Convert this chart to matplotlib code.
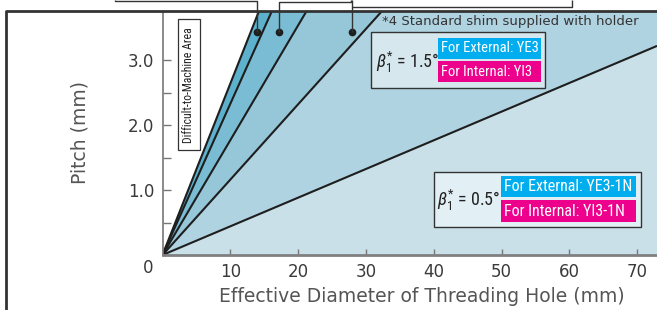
import matplotlib
matplotlib.use("Agg")
import matplotlib.pyplot as plt
from matplotlib.patches import Rectangle
from matplotlib.lines import Line2D
from matplotlib import font_manager

# ---------------- data ----------------
# each boundary line runs from the origin to (line_end_d, line_end_p)
line_end_d = [14.2, 16.1, 21.2, 32.3, 72.9]      # effective diameter (mm)
line_end_p = [3.75, 3.75, 3.75, 3.75, 3.22]      # pitch (mm)
region_colors = ["#5db1cc", "#7abcd3", "#96c7d9", "#b0d3e1", "#c9e0e9"]
x_ticks = [10, 20, 30, 40, 50, 60, 70]
y_ticks = [1.0, 2.0, 3.0]
y_minor = [0.5, 1.5, 2.5]
callout_d = [13.9, 17.2, 27.9]
callout_p = [3.43, 3.43, 3.43]
xmax, ymax = 72.9, 3.75

# pick a condensed font if available
names = {f.name for f in font_manager.fontManager.ttflist}
if "Roboto Condensed" in names:
    nf = "Roboto Condensed"
    fs_l1, fs_l2, fs_dma, fs_beta = 10.5, 11.5, 8.5, 13
elif "Liberation Sans Narrow" in names:
    nf = "Liberation Sans Narrow"
    fs_l1, fs_l2, fs_dma, fs_beta = 10.5, 11.5, 8.5, 13
else:
    nf = "Roboto"
    fs_l1, fs_l2, fs_dma, fs_beta = 9.5, 10.5, 7.3, 12
narrow = [nf, "DejaVu Sans"]
plt.rcParams["mathtext.fontset"] = "custom"
plt.rcParams["mathtext.rm"] = nf
plt.rcParams["mathtext.it"] = nf + ":italic"
plt.rcParams["mathtext.bf"] = nf + ":bold"
plt.rcParams["mathtext.fallback"] = "stixsans"

W, H = 657, 310
fig = plt.figure(figsize=(W / 100, H / 100), dpi=100)
fig.patch.set_facecolor("white")

def fx(px):
    return px / W

def fy(py):
    return 1 - py / H

ax = fig.add_axes([fx(162.5), fy(255), fx(657) - fx(162.5), fy(11.5) - fy(255)])
ax.set_xlim(0, xmax)
ax.set_ylim(0, ymax)
ax.set_facecolor("white")

# filled regions between successive lines
for i in range(4):
    ax.fill([0, line_end_d[i], line_end_d[i + 1]], [0, line_end_p[i], line_end_p[i + 1]],
            color=region_colors[i], lw=0, zorder=1)
ax.fill([0, line_end_d[3], xmax, line_end_d[4]], [0, line_end_p[3], ymax, line_end_p[4]],
        color=region_colors[3], lw=0, zorder=1)
ax.fill([0, line_end_d[4], xmax], [0, line_end_p[4], 0],
        color=region_colors[4], lw=0, zorder=1)

for d, p in zip(line_end_d, line_end_p):
    ax.plot([0, d], [0, p], color="#1e1e1e", lw=1.5, zorder=3, solid_capstyle="butt")

ax.plot(callout_d, callout_p, "o", color="#1e1e1e", ms=4.5, zorder=4)

# axes styling
for s in ["top", "right"]:
    ax.spines[s].set_visible(False)
ax.spines["left"].set_color("#777777")
ax.spines["bottom"].set_color("#808080")
ax.spines["left"].set_linewidth(1.2)
ax.spines["bottom"].set_linewidth(2.0)
ax.spines["left"].set_zorder(5)
ax.spines["bottom"].set_zorder(5)

ax.set_xticks(x_ticks)
ax.set_xticklabels([str(t) for t in x_ticks])
ax.set_yticks(y_ticks)
ax.set_yticklabels([f"{t:.1f}" for t in y_ticks])
ax.set_yticks(y_minor, minor=True)
ax.tick_params(axis="x", direction="in", length=4, width=1, color="#777777",
               labelsize=12, labelcolor="#3a3a3a", pad=6)
ax.tick_params(axis="y", which="both", direction="in", length=6, width=1, color="#777777",
               labelsize=12, labelcolor="#3a3a3a", pad=6)
ax.annotate("0", xy=(0, 0), xytext=(-14, -13), textcoords="offset pixels",
            ha="center", va="center", fontsize=12, color="#3a3a3a")

fig.text(fx(422), fy(297), "Effective Diameter of Threading Hole (mm)", ha="center", va="center",
         fontsize=13.5, color="#555555")
fig.text(fx(80), fy(133), "Pitch (mm)", ha="center", va="center", rotation=90,
         fontsize=13.5, color="#555555")

# Difficult-to-Machine Area box
fig.add_artist(Rectangle((fx(178), fy(150)), fx(200) - fx(178), fy(19) - fy(150),
                         transform=fig.transFigure, facecolor="white", edgecolor="#333333",
                         lw=0.9, zorder=6))
fig.text(fx(189), fy(85), "Difficult-to-Machine Area", rotation=90, ha="center", va="center",
         fontsize=fs_dma, family=narrow, color="#222222", zorder=7)

# note
fig.text(fx(382), fy(22), "*4 Standard shim supplied with holder", ha="left", va="center",
         fontsize=9.5, color="#333333", zorder=7)

def label_box(x0, x1, y0, y1, beta_text, bx, by, lab_x0, lab_x1, cy0, cy1, my0, my1,
              ext, inn, fc, fs_lab):
    fig.add_artist(Rectangle((fx(x0), fy(y1)), fx(x1) - fx(x0), fy(y0) - fy(y1),
                             transform=fig.transFigure, facecolor=fc, edgecolor="#333333",
                             lw=1.0, zorder=6))
    fig.text(fx(bx), fy(by), beta_text, ha="left", va="center", fontsize=fs_beta,
             family=narrow, color="#222222", zorder=7)
    fig.add_artist(Rectangle((fx(lab_x0), fy(cy1)), fx(lab_x1) - fx(lab_x0), fy(cy0) - fy(cy1),
                             transform=fig.transFigure, facecolor="#00aeef", lw=0, zorder=7))
    fig.add_artist(Rectangle((fx(lab_x0), fy(my1)), fx(lab_x1) - fx(lab_x0), fy(my0) - fy(my1),
                             transform=fig.transFigure, facecolor="#ec008c", lw=0, zorder=7))
    fig.text(fx(lab_x0 + 3), fy((cy0 + cy1) / 2), ext, ha="left", va="center", fontsize=fs_lab,
             family=narrow, color="white", zorder=8)
    fig.text(fx(lab_x0 + 3), fy((my0 + my1) / 2), inn, ha="left", va="center", fontsize=fs_lab,
             family=narrow, color="white", zorder=8)

label_box(371, 545, 32, 88, r"$\beta^{*}_{1}$ = 1.5°", 376, 62, 438, 541, 38, 59, 61, 82,
          "For External: YE3", "For Internal: YI3", "#d6e7ee", fs_l1)
label_box(434, 641, 172, 227, r"$\beta^{*}_{1}$ = 0.5°", 437, 200, 501, 636, 176, 197, 200, 222,
          "For External: YE3-1N", "For Internal: YI3-1N", "#e2eff5", fs_l2)

# outer frame and callout lines
def fline(xs, ys, lw=1.0, color="#333333", z=9):
    fig.add_artist(Line2D([fx(v) for v in xs], [fy(v) for v in ys], transform=fig.transFigure,
                          color=color, lw=lw, zorder=z, solid_capstyle="butt"))

fline([6, 6, 657], [310, 11, 11], lw=2.0, color="#333333")
fline([115, 115, 257, 257], [0, 1, 1, 32], lw=1.0)
fline([351, 351, 279, 279], [0, 2, 2, 32], lw=1.0)
fline([572, 572, 352], [0, 7, 7], lw=1.0)
fline([352, 352], [0, 32], lw=1.0)

fig.savefig("out.png", dpi=100)
